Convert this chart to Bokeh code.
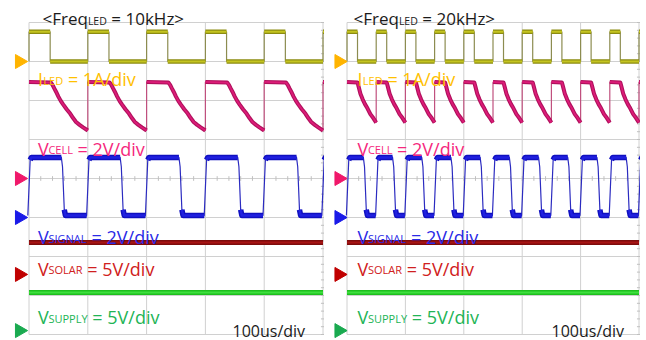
import numpy as np
from bokeh.plotting import figure
from bokeh.layouts import row
from bokeh.models import Range1d
from bokeh.core.properties import value
from bokeh.embed import file_html
from bokeh.resources import INLINE

# ---------------- data ----------------
# rising edges of the LED drive, in microseconds
starts_10k = [0, 100, 200, 300, 400, 500]
starts_20k = [0, 50, 100, 150, 200, 250, 300, 350, 400, 450, 500]

# one period of each trace: time from rising edge (us), value (A or V)
iled_10k_t = [0, 0, 36, 36, 100]
iled_10k_v = [0, 0.76, 0.76, 0, 0]
iled_20k_t = [0, 0, 18, 18, 50]
iled_20k_v = [0, 0.76, 0.76, 0, 0]

vcell_10k_t = [0, 37, 40, 43, 46, 50, 54, 58, 64, 70, 75, 80, 86, 92, 100]
vcell_10k_v = [4.95, 4.92, 4.80, 4.62, 4.45, 4.20, 3.98, 3.80, 3.55, 3.33, 3.10, 2.90, 2.75, 2.62, 2.46]
vcell_20k_t = [0, 18, 20, 23, 27, 31, 35, 40, 45, 50]
vcell_20k_v = [4.95, 4.92, 4.70, 4.35, 4.05, 3.80, 3.60, 3.30, 3.10, 2.87]

vsig_10k_t = [-2, 2, 4, 55, 57, 60, 62, 98]
vsig_10k_v = [0.1, 2.95, 3.08, 3.08, 2.6, 0.4, 0.1, 0.1]
vsig_20k_t = [-1, 3, 5, 28, 30, 33, 35, 49]
vsig_20k_v = [0.1, 2.95, 3.08, 3.08, 2.6, 0.4, 0.1, 0.1]

vsolar_t = [0, 500]
vsolar_v = [4.1, 4.1]
vsupply_t = [0, 500]
vsupply_v = [4.9, 4.9]

# channel settings: (units per division, reference offset in divisions)
ch_iled = (1.0, 7.0)
ch_vcell = (2.0, 4.0)
ch_vsig = (2.0, 3.0)
ch_vsolar = (5.0, 1.54)
ch_vsupply = (5.0, 0.10)

grid_t = [0, 100, 200, 300, 400, 500]
grid_d = [0, 1, 2, 3, 4, 5, 6, 7, 8]
minor_t = list(range(0, 501, 20))
minor_d = [i * 0.2 for i in range(0, 41)]

FONT = "Open Sans"
ADV = {' ': .26, '<': .572, '>': .572, '=': .572, '0': .572, '1': .572, '2': .572,
       '5': .572, '/': .367, 'A': .633, 'C': .631, 'D': .738, 'E': .556, 'F': .516,
       'G': .728, 'H': .742, 'I': .293, 'L': .519, 'N': .778, 'O': .781, 'P': .613,
       'R': .627, 'S': .544, 'U': .738, 'V': .579, 'Y': .541, 'd': .613, 'e': .561,
       'i': .253, 'k': .525, 'q': .613, 'r': .408, 's': .477, 'u': .614, 'v': .504,
       'z': .477}


def tw(s, size):
    return sum(ADV.get(c, .55) for c in s) * size


PXD = 39.0   # pixels per vertical division
Y0 = 334.0   # page y of the bottom grid line
H = 340


def build(starts, ts, vs, ch):
    per_div, off = ch
    xs, ys = [], []
    for s in starts:
        for t, v in zip(ts, vs):
            xs.append(s + t)
            ys.append(off + v / per_div)
    return xs, ys


def body(xs, ys, pxu):
    bx, by = [xs[0]], [ys[0]]
    for i in range(1, len(xs)):
        dtp = abs(xs[i] - xs[i - 1]) * pxu
        dvp = abs(ys[i] - ys[i - 1]) * PXD
        if dvp > 0 and dtp < 0.15 * dvp:
            bx.append(np.nan)
            by.append(np.nan)
        bx.append(xs[i])
        by.append(ys[i])
    return bx, by


def panel(page_left, width, frame_x0, pxu, starts, iled, vcell, vsig,
          freq, lab_x, title_x, div_x, marker_x):
    x0c = frame_x0 - page_left
    p = figure(width=width, height=H, output_backend="svg", toolbar_location=None,
               x_range=Range1d(-x0c / pxu, (width - x0c) / pxu),
               y_range=Range1d((Y0 - H) / PXD, Y0 / PXD),
               x_axis_location=None, y_axis_location=None, min_border=0)
    p.grid.visible = False
    p.outline_line_color = None
    p.background_fill_color = "white"
    p.border_fill_color = "white"

    # grid
    p.segment(x0=grid_t, x1=grid_t, y0=[0] * len(grid_t), y1=[8] * len(grid_t),
              line_color="#d0d0d0", line_width=1)
    p.segment(x0=[0] * len(grid_d), x1=[500] * len(grid_d), y0=grid_d, y1=grid_d,
              line_color="#d0d0d0", line_width=1)
    # minor ticks on centre lines
    p.segment(x0=minor_t, x1=minor_t, y0=[4 - 0.06] * len(minor_t), y1=[4 + 0.06] * len(minor_t),
              line_color="#c0c0c0", line_width=1)
    p.segment(x0=[500 - 3.5] * len(minor_d), x1=[500 + 3.5] * len(minor_d), y0=minor_d, y1=minor_d,
              line_color="#c0c0c0", line_width=1)

    def trace(xs, ys, outer, inner, thin, w_out=5, w_in=2):
        p.line(xs, ys, line_color=thin, line_width=1.2)
        bx, by = body(xs, ys, pxu)
        p.line(bx, by, line_color=outer, line_width=w_out, line_join="round")
        p.line(bx, by, line_color=inner, line_width=w_in, line_join="round")

    xs, ys = build([0], vsupply_t, vsupply_v, ch_vsupply)
    trace(xs, ys, "#1ebf1e", "#3ee03e", "#1ebf1e", 5, 2)
    xs, ys = build([0], vsolar_t, vsolar_v, ch_vsolar)
    trace(xs, ys, "#7e0c0c", "#a81414", "#7e0c0c", 5, 2)
    xs, ys = build(starts, vsig[0], vsig[1], ch_vsig)
    trace(xs, ys, "#1010c0", "#2020e0", "#2b2bc0", 5.5, 2.5)
    xs, ys = build(starts, vcell[0], vcell[1], ch_vcell)
    trace(xs, ys, "#b0105c", "#dc1c78", "#c0507e", 4, 1.8)
    xs, ys = build(starts, iled[0], iled[1], ch_iled)
    trace(xs, ys, "#8c8c10", "#c4c420", "#8c8c50", 4.5, 2)

    # channel reference markers
    mx = (marker_x - frame_x0) / pxu
    offs = [ch_iled[1], ch_vcell[1], ch_vsig[1], ch_vsolar[1], ch_vsupply[1]]
    cols = ["#ffb400", "#f0186a", "#1a1ae8", "#c00000", "#1aaa50"]
    p.scatter([mx] * 5, offs, marker="triangle", size=14, angle=-np.pi / 2,
              fill_color=cols, line_color=cols)

    def put(px, py, pieces, color):
        x = px
        for txt, size, dy in pieces:
            lead = len(txt) - len(txt.lstrip(" "))
            x += tw(" " * lead, size)
            s = txt.strip(" ")
            p.text([(x - frame_x0) / pxu], [(Y0 - (py + dy)) / PXD], text=[s],
                   text_font=value(FONT), text_font_size=value(f"{size}px"),
                   text_color=color, text_baseline="alphabetic", text_align="left")
            x += tw(s, size)

    put(title_x, 17.5, [("<Freq", 17, 0), ("LED", 10.5, 3), (f" = {freq}>", 17, 0)], "#1a1a1a")
    put(lab_x, 78.5, [("I", 18, 0), ("LED", 11, 1), (" = 1A/div", 18, 0)], "#ffc000")
    put(lab_x, 148, [("V", 18, 0), ("CELL", 11, 1), (" = 2V/div", 18, 0)], "#f5287d")
    put(lab_x, 236.5, [("V", 18, 0), ("SIGNAL", 11, 1), (" = 2V/div", 18, 0)], "#2a2ae6")
    put(lab_x, 268, [("V", 18, 0), ("SOLAR", 11, 1), (" = 5V/div", 18, 0)], "#d02020")
    put(lab_x, 316.5, [("V", 18, 0), ("SUPPLY", 11, 1), (" = 5V/div", 18, 0)], "#22b455")
    put(div_x, 330.5, [("100us/div", 16, 0)], "#1a1a1a")
    return p


pL = panel(0, 324, 28.5, 0.588, starts_10k, (iled_10k_t, iled_10k_v),
           (vcell_10k_t, vcell_10k_v), (vsig_10k_t, vsig_10k_v),
           "10kHz", 37.5, 42, 232, 19)
pR = panel(324, 316, 346.5, 0.584, starts_20k, (iled_20k_t, iled_20k_v),
           (vcell_20k_t, vcell_20k_v), (vsig_20k_t, vsig_20k_v),
           "20kHz", 357, 353, 551, 338.5)

layout = row(pL, pR, spacing=0)
open("out.html", "w").write(file_html(layout, INLINE))
